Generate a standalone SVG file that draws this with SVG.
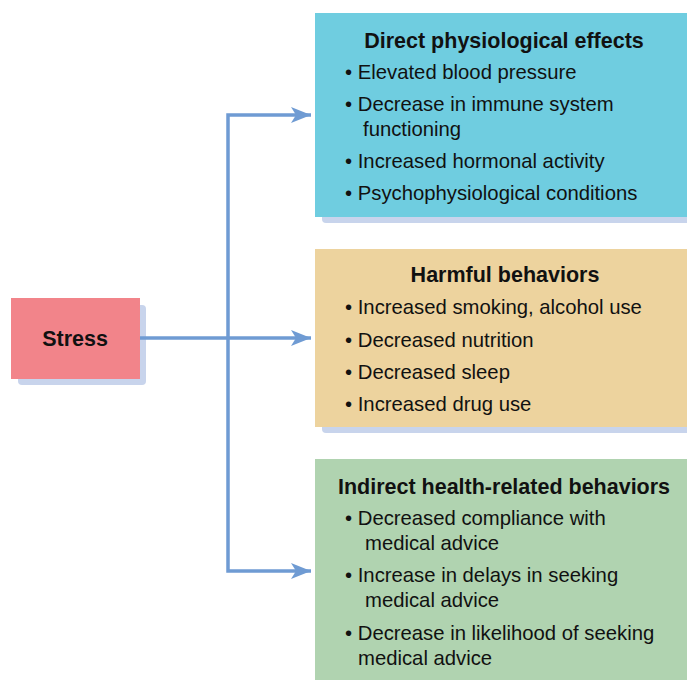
<svg xmlns="http://www.w3.org/2000/svg" width="687" height="680" viewBox="0 0 687 680">
<style>
.shadow{fill:#c8d4ec}
.title{font-family:"Liberation Sans",Arial,sans-serif;font-weight:bold;font-size:21.5px;fill:#111;text-anchor:middle}
.item{font-family:"Liberation Sans",Arial,sans-serif;font-size:20.3px;fill:#111}
.conn{stroke:#6f9bd3;stroke-width:3.5;fill:none}
</style>
<defs>
<marker id="arr" markerUnits="userSpaceOnUse" markerWidth="22" markerHeight="18" refX="20" refY="8" orient="auto">
<path d="M0,0 L20,8 L0,16 L5,8 Z" fill="#6f9bd3"/>
</marker>
</defs>
<rect width="687" height="680" fill="#fff"/>
<g id="stress">
<rect class="shadow" x="18" y="305" width="128" height="80" rx="4"/>
<rect x="11" y="298" width="129" height="81" fill="#f2848a"/>
<text class="title" x="75" y="346">Stress</text>
</g>
<g id="connectors">
<line class="conn" x1="140" y1="338" x2="311" y2="338" marker-end="url(#arr)"/>
<polyline class="conn" points="228,338 228,115 311,115" marker-end="url(#arr)"/>
<polyline class="conn" points="228,338 228,571 311,571" marker-end="url(#arr)"/>
</g>
<g id="direct">
<rect class="shadow" x="322" y="20" width="372" height="203" rx="4"/>
<rect x="315" y="13" width="372" height="204" fill="#6fcde0"/>
<text class="title" x="504" y="48">Direct physiological effects</text>
<text class="item" x="345" y="79">• Elevated blood pressure</text>
<text class="item" x="345" y="111">• Decrease in immune system</text>
<text class="item" x="363" y="136">functioning</text>
<text class="item" x="345" y="168">• Increased hormonal activity</text>
<text class="item" x="345" y="200">• Psychophysiological conditions</text>
</g>
<g id="harmful">
<rect class="shadow" x="322" y="256" width="372" height="177" rx="4"/>
<rect x="315" y="249" width="372" height="178" fill="#edd39e"/>
<text class="title" x="505" y="282">Harmful behaviors</text>
<text class="item" x="345" y="314">• Increased smoking, alcohol use</text>
<text class="item" x="345" y="347">• Decreased nutrition</text>
<text class="item" x="345" y="379">• Decreased sleep</text>
<text class="item" x="345" y="411">• Increased drug use</text>
</g>
<g id="indirect">
<rect x="315" y="459" width="372" height="221" fill="#b0d3b0"/>
<text class="title" x="504" y="494">Indirect health-related behaviors</text>
<text class="item" x="345" y="525">• Decreased compliance with</text>
<text class="item" x="365" y="550">medical advice</text>
<text class="item" x="345" y="582">• Increase in delays in seeking</text>
<text class="item" x="365" y="607">medical advice</text>
<text class="item" x="345" y="640">• Decrease in likelihood of seeking</text>
<text class="item" x="358" y="665">medical advice</text>
</g>
</svg>
